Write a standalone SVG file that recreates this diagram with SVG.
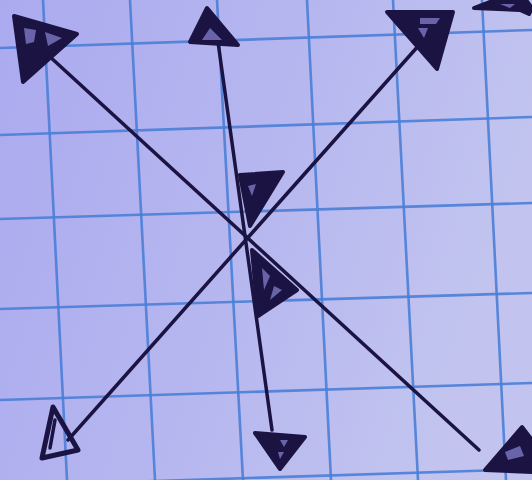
<svg xmlns="http://www.w3.org/2000/svg" width="532" height="480" viewBox="0 0 532 480">
<defs>
<linearGradient id="paper" x1="0" y1="0" x2="1" y2="0.3">
<stop offset="0" stop-color="#abaaef"/>
<stop offset="0.6" stop-color="#b7b8ef"/>
<stop offset="1" stop-color="#c2c4ef"/>
</linearGradient>
<style>
.grid{stroke:#4a7ed6;stroke-width:2.6;fill:none;opacity:0.9}
.ink{stroke:#1b1442;stroke-width:3.5;stroke-linecap:round;fill:none}
.head{fill:#1b1442;stroke:#1b1442;stroke-width:4;stroke-linejoin:round}
.hollow{fill:none;stroke:#1b1442;stroke-width:5;stroke-linejoin:round}
.spot{fill:#7d78c4;opacity:0.8}
</style>
</defs>
<rect width="532" height="480" fill="url(#paper)"/>
<g id="grid">
<line class="grid" x1="0" y1="48" x2="532" y2="30"/>
<line class="grid" x1="0" y1="135" x2="532" y2="117"/>
<line class="grid" x1="0" y1="219" x2="532" y2="203"/>
<line class="grid" x1="0" y1="309" x2="532" y2="293"/>
<line class="grid" x1="0" y1="400" x2="532" y2="383"/>
<line class="grid" x1="0" y1="486" x2="532" y2="469"/>
<line class="grid" x1="43" y1="0" x2="67" y2="480"/>
<line class="grid" x1="130" y1="0" x2="155" y2="480"/>
<line class="grid" x1="217" y1="0" x2="243" y2="480"/>
<line class="grid" x1="307" y1="0" x2="331" y2="480"/>
<line class="grid" x1="393" y1="0" x2="418" y2="480"/>
<line class="grid" x1="482" y1="0" x2="506" y2="480"/>
</g>
<g id="connectors">
<line class="ink" x1="48" y1="55" x2="479" y2="450"/>
<line class="ink" x1="218" y1="42" x2="272" y2="430"/>
<line class="ink" x1="68" y1="440" x2="420" y2="44"/>
</g>
<g id="head-top-left">
<polygon class="head" points="14,16 77,34 23,82"/>
<path class="spot" d="M24,28 L36,30 L34,42 L26,44 Z"/>
<path class="spot" d="M45,32 L62,38 L48,46 Z"/>
</g>
<g id="head-top">
<polygon class="head" points="207,8 190,42 238,45"/>
<polygon class="spot" points="210,28 202,40 222,40"/>
</g>
<g id="head-top-right">
<polygon class="head" points="387,12 453,12 437,69"/>
<path class="spot" d="M420,18 L440,18 L436,24 L420,24 Z"/>
<path class="spot" d="M418,28 L428,28 L424,38 Z"/>
</g>
<g id="head-corner">
<polygon class="head" points="474,8 495,0 526,0 532,8 529,14 520,10"/>
<polygon class="spot" points="500,4 515,4 510,8"/>
</g>
<g id="head-bottom-left">
<polygon class="hollow" points="53,407 42,458 78,450"/>
<path class="ink" d="M55,420 L50,448"/>
</g>
<g id="head-bottom">
<polygon class="head" points="255,433 305,437 280,469"/>
<path class="spot" d="M280,440 L288,440 L284,447 Z"/>
<path class="spot" d="M278,452 L284,452 L280,459 Z"/>
</g>
<g id="head-bottom-right">
<polygon class="head" points="522,427 485,470 532,472 532,440"/>
<path class="spot" d="M505,452 L520,446 L524,456 L508,460 Z"/>
</g>
<g id="mid-upper">
<polygon class="head" points="240,175 283,172 250,226"/>
<path class="spot" d="M248,186 L256,184 L252,196 Z"/>
</g>
<g id="mid-lower">
<polygon class="head" points="252,250 297,290 258,316"/>
<path class="spot" d="M262,268 L270,276 L264,290 Z"/>
<path class="spot" d="M274,286 L282,290 L270,300 Z"/>
</g>
</svg>
